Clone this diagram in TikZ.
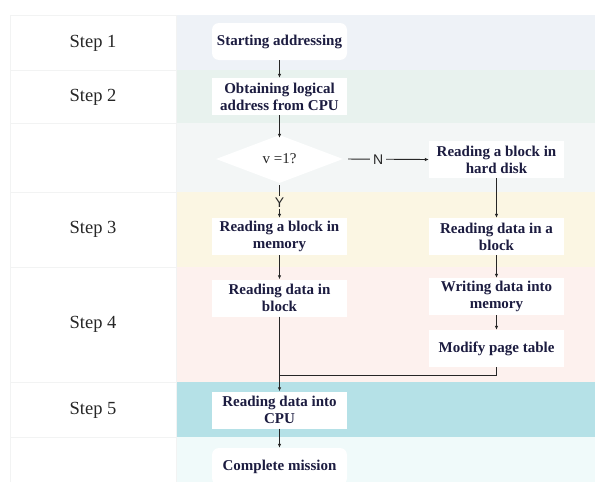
\documentclass[tikz,border=0pt]{standalone}
\usepackage{fontspec}
\setmainfont{Liberation Serif}
\newfontfamily\sansN{Liberation Sans}
\usetikzlibrary{shapes.geometric,arrows.meta}
\definecolor{rowA}{HTML}{EEF2F7}
\definecolor{rowB}{HTML}{E8F2EE}
\definecolor{rowC}{HTML}{F3F6F6}
\definecolor{rowD}{HTML}{FBF6E3}
\definecolor{rowE}{HTML}{FDF1EE}
\definecolor{rowF}{HTML}{B5E1E7}
\definecolor{rowG}{HTML}{F0FAFA}
\definecolor{navy}{HTML}{1C1C40}
\definecolor{sepc}{HTML}{F2F3F3}
\begin{document}
\begin{tikzpicture}[x=1pt,y=-1pt,
 box/.style={fill=white, minimum width=135pt, minimum height=37pt, inner sep=1pt, align=center, font=\fontsize{15}{17}\selectfont\bfseries, text=navy},
 rbox/.style={box, rounded corners=7pt},
 steplab/.style={font=\fontsize{18.5}{20}\selectfont, text=black!85},
 arr/.style={-{Latex[length=4pt,width=3.5pt]}, line width=0.9pt, black!85},
 ln/.style={line width=0.9pt, black!85},
 yn/.style={font=\sansN\fontsize{14}{14}\selectfont, inner sep=1.5pt, text=black!85}
]
\useasboundingbox (0,0) rectangle (595,482);
\fill[white] (0,0) rectangle (595,482);
% coloured rows
\fill[rowA] (176,15) rectangle (595,70);
\fill[rowB] (176,70) rectangle (595,123);
\fill[rowC] (176,123) rectangle (595,192);
\fill[rowD] (176,192) rectangle (595,267);
\fill[rowE] (176,267) rectangle (595,382);
\fill[rowF] (176,382) rectangle (595,437);
\fill[rowG] (176,437) rectangle (595,482);
% left cells
\foreach \a/\b in {15/70,70/123,123/192,192/267,267/382,382/437,437/482}
  \draw[sepc, fill=white, line width=0.8pt] (10,\a) rectangle (176,\b);
% step labels
\node[steplab] (l1) at (93,43) {Step 1};
\node[steplab] (l2) at (93,97) {Step 2};
\node[steplab] (l3) at (93,229) {Step 3};
\node[steplab] (l4) at (93,324) {Step 4};
\node[steplab] (l5) at (93,410) {Step 5};
% flow nodes
\node[rbox] (s1) at (279.5,41.5) {Starting addressing};
\node[box] (s2) at (279.5,96.5) {Obtaining logical\\address from CPU};
\node[diamond, fill=white, minimum width=127pt, minimum height=48pt, inner sep=0pt, aspect=2.6, font=\fontsize{15}{17}\selectfont, text=black!85] (d) at (279.5,159) {v =1?};
\node[box] (hd) at (496.5,159.5) {Reading a block in\\hard disk};
\node[box] (rbm) at (279.5,236.5) {Reading a block in\\memory};
\node[box] (rdb) at (496.5,236.5) {Reading data in a\\block};
\node[box] (rdib) at (279.5,298) {Reading data in\\block};
\node[box] (wdm) at (496.5,296.5) {Writing data into\\memory};
\node[box] (mpt) at (496.5,348.5) {Modify page table};
\node[box] (cpu) at (279.5,410) {Reading data into\\CPU};
\node[rbox] (cm) at (279.5,466.5) {Complete mission};
\coordinate (m) at (279.5,375);
% connectors
\draw[arr] (s1.south) -- (s2.north);
\draw[arr] (s2.south) -- ([yshift=-3pt]d.north);
\draw[arr, shorten <=5pt] (d.east) -- node[yn, fill=rowC, pos=0.41, inner xsep=3pt]{N} (hd.west);
\draw[arr, shorten <=2pt] (d.south) -- node[yn, fill=rowD, pos=0.55]{Y} (rbm.north);
\draw[arr] (hd.south) -- (rdb.north);
\draw[arr] (rbm.south) -- (rdib.north);
\draw[arr] (rdb.south) -- (wdm.north);
\draw[arr] (wdm.south) -- (mpt.north);
\draw[ln] (mpt.south) |- (m);
\draw[arr] (rdib.south) -- (cpu.north);
\draw[arr] (cpu.south) -- (cm.north);
\end{tikzpicture}
\end{document}
